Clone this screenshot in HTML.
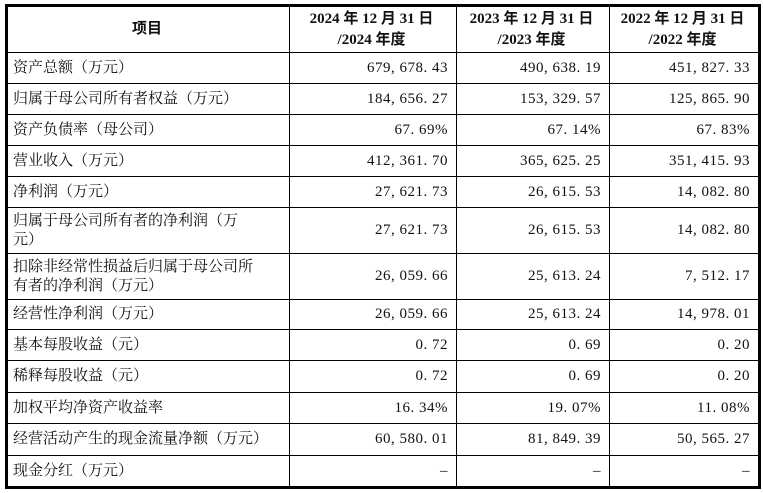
<!DOCTYPE html>
<html><head><meta charset="utf-8"><style>
body{margin:0;background:#fff;width:763px;height:493px;overflow:hidden}
table{position:absolute;left:5px;top:4px;border-collapse:collapse;border:3px solid #000;table-layout:fixed;
font-family:"Liberation Serif","Noto Serif CJK SC",serif;font-size:15px;color:#111}
td{border:1px solid #000;padding:0 8px 0 5px;line-height:19px;vertical-align:middle}
td.n{text-align:right;letter-spacing:0.5px}
tr.h td{font-weight:bold;text-align:center;font-size:15px;line-height:21px;font-family:"Liberation Serif","Noto Sans CJK SC",serif}
</style></head><body>
<table>
<colgroup><col style="width:283px"><col style="width:167px"><col style="width:153px"><col style="width:150px"></colgroup>
<tr class="h" style="height:47px"><td>项目</td><td>2024 年 12 月 31 日<br>/2024 年度</td><td>2023 年 12 月 31 日<br>/2023 年度</td><td>2022 年 12 月 31 日<br>/2022 年度</td></tr>
<tr style="height:31px"><td>资产总额（万元）</td><td class="n">679, 678. 43</td><td class="n">490, 638. 19</td><td class="n">451, 827. 33</td></tr>
<tr style="height:31px"><td>归属于母公司所有者权益（万元）</td><td class="n">184, 656. 27</td><td class="n">153, 329. 57</td><td class="n">125, 865. 90</td></tr>
<tr style="height:31px"><td>资产负债率（母公司）</td><td class="n">67. 69%</td><td class="n">67. 14%</td><td class="n">67. 83%</td></tr>
<tr style="height:31px"><td>营业收入（万元）</td><td class="n">412, 361. 70</td><td class="n">365, 625. 25</td><td class="n">351, 415. 93</td></tr>
<tr style="height:31px"><td>净利润（万元）</td><td class="n">27, 621. 73</td><td class="n">26, 615. 53</td><td class="n">14, 082. 80</td></tr>
<tr style="height:46px"><td>归属于母公司所有者的净利润（万<br>元）</td><td class="n">27, 621. 73</td><td class="n">26, 615. 53</td><td class="n">14, 082. 80</td></tr>
<tr style="height:46px"><td>扣除非经常性损益后归属于母公司所<br>有者的净利润（万元）</td><td class="n">26, 059. 66</td><td class="n">25, 613. 24</td><td class="n">7, 512. 17</td></tr>
<tr style="height:30px"><td>经营性净利润（万元）</td><td class="n">26, 059. 66</td><td class="n">25, 613. 24</td><td class="n">14, 978. 01</td></tr>
<tr style="height:31px"><td>基本每股收益（元）</td><td class="n">0. 72</td><td class="n">0. 69</td><td class="n">0. 20</td></tr>
<tr style="height:32px"><td>稀释每股收益（元）</td><td class="n">0. 72</td><td class="n">0. 69</td><td class="n">0. 20</td></tr>
<tr style="height:31px"><td>加权平均净资产收益率</td><td class="n">16. 34%</td><td class="n">19. 07%</td><td class="n">11. 08%</td></tr>
<tr style="height:32px"><td>经营活动产生的现金流量净额（万元）</td><td class="n">60, 580. 01</td><td class="n">81, 849. 39</td><td class="n">50, 565. 27</td></tr>
<tr style="height:32px"><td>现金分红（万元）</td><td class="n">–</td><td class="n">–</td><td class="n">–</td></tr>
</table>
</body></html>
